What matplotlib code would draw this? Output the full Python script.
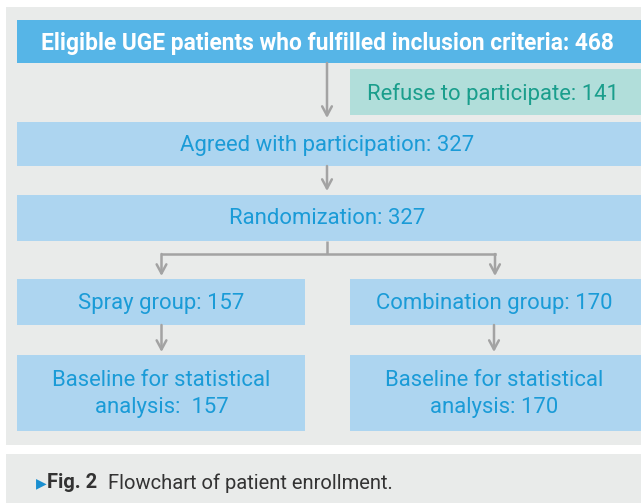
import matplotlib.pyplot as plt
from matplotlib.patches import Rectangle

# flowchart content
stages = ["Eligible UGE patients who fulfilled inclusion criteria", "Refuse to participate",
          "Agreed with participation", "Randomization",
          "Spray group", "Combination group"]
counts = [468, 141, 327, 327, 157, 170]
baseline_counts = [157, 170]
caption_bold = "Fig. 2"
caption_text = "Flowchart of patient enrollment."

BLUE_DARK = "#56b5e7"
BLUE_LIGHT = "#add5f0"
TEAL_LIGHT = "#b1deda"
TXT_BLUE = "#1a9bd7"
TXT_TEAL = "#1a9e8c"
PANEL = "#e9ebea"
ARROW = "#a3a3a3"

plt.rcParams['font.family'] = ['Roboto', 'DejaVu Sans']
FS = 15.9

fig = plt.figure(figsize=(6.41, 5.03), dpi=100)
ax = fig.add_axes([0, 0, 1, 1])
ax.set_xlim(0, 641)
ax.set_ylim(503, 0)
ax.axis("off")


def box(x0, y0, x1, y1, color):
    ax.add_patch(Rectangle((x0, y0), x1 - x0, y1 - y0, facecolor=color, edgecolor="none"))


def arrow(x, y0, y1):
    ax.annotate("", xy=(x, y1), xytext=(x, y0),
                arrowprops=dict(arrowstyle="->,head_length=0.65,head_width=0.35",
                                color=ARROW, lw=1.8, shrinkA=0, shrinkB=0))


# panels
box(6, 7, 641, 445, PANEL)
box(6, 454, 641, 503, PANEL)

# top box
box(17, 20, 641, 63, BLUE_DARK)
ax.text(327, 43, f"{stages[0]}: {counts[0]}", color="white", fontsize=16.4,
        fontweight="bold", ha="center", va="center")

# refused
box(350, 69, 641, 115, TEAL_LIGHT)
ax.text(493, 94, f"{stages[1]}: {counts[1]}", color=TXT_TEAL, fontsize=FS,
        ha="center", va="center")
arrow(327, 63, 118)

# agreed
box(17, 122, 641, 166, BLUE_LIGHT)
ax.text(327, 146, f"{stages[2]}: {counts[2]}", color=TXT_BLUE, fontsize=FS,
        ha="center", va="center")
arrow(327, 166, 191)

# randomization
box(17, 195, 641, 241, BLUE_LIGHT)
ax.text(327, 219, f"{stages[3]}: {counts[3]}", color=TXT_BLUE, fontsize=FS,
        ha="center", va="center")

# branch
ax.plot([327, 327], [241, 254], color=ARROW, lw=1.8, solid_capstyle="butt")
ax.plot([161.5, 495], [254, 254], color=ARROW, lw=1.8, solid_capstyle="projecting")
arrow(161.5, 254, 276)
arrow(495, 254, 276)

# groups
cols = [(17, 305), (350, 641)]
for i, (x0, x1) in enumerate(cols):
    cx = 161.5 if i == 0 else 494
    box(x0, 279, x1, 325, BLUE_LIGHT)
    ax.text(cx, 303, f"{stages[4 + i]}: {counts[4 + i]}", color=TXT_BLUE,
            fontsize=FS, ha="center", va="center")
    arrow(cx, 325, 352)
    box(x0, 355, x1, 431, BLUE_LIGHT)
    sep = ":  " if i == 0 else ": "
    ax.text(cx, 394, f"Baseline for statistical\nanalysis{sep}{baseline_counts[i]}",
            color=TXT_BLUE, fontsize=FS, ha="center", va="center",
            linespacing=1.38)

# caption
ax.text(36, 483, "\u25B6", color="#1a8fd0", fontsize=10, ha="left", va="center",
        family=['DejaVu Sans'])
ax.text(47, 483, caption_bold, color="#333333", fontsize=14.5, fontweight="bold",
        ha="left", va="center")
ax.text(108, 483, caption_text, color="#333333", fontsize=14.5, ha="left", va="center")

fig.savefig("out.png", dpi=100)
